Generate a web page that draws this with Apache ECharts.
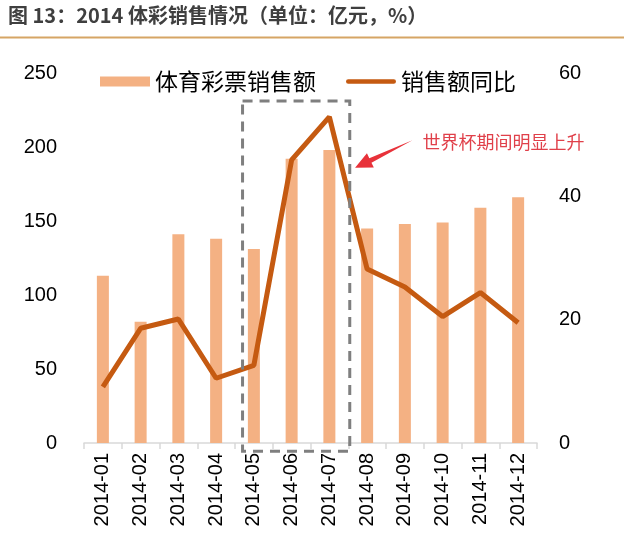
<!DOCTYPE html>
<html><head><meta charset="utf-8">
<script src="https://cdn.jsdelivr.net/npm/echarts@6/dist/echarts.min.js"></script>
<style>html,body{margin:0;padding:0;background:#fff}#c{width:624px;height:549px}</style>
</head><body><div id="c"></div>
<script>
const titleText = '图 13：2014 体彩销售情况（单位：亿元，%）';
const categories = ['2014-01','2014-02','2014-03','2014-04','2014-05','2014-06','2014-07','2014-08','2014-09','2014-10','2014-11','2014-12'];
const salesName = '体育彩票销售额';
const yoyName = '销售额同比';
const sales = [113, 82, 141, 138, 131, 192, 198, 145, 148, 149, 159, 166];
const yoy = [9.1, 18.6, 20.1, 10.5, 12.6, 45.9, 52.9, 28.2, 25.3, 20.5, 24.4, 19.5];
const leftTicks = {min: 0, max: 250, interval: 50};
const rightTicks = {min: 0, max: 60, interval: 20};
const noteText = '世界杯期间明显上升';
// annotation anchors in data space: [category index (fractional), left-axis value]
const boxFrom = [3.7, 231];
const boxTo = [6.54, -5.5];
const arrowTail = [8.2, 204.5];
const arrowTip = [6.68, 186];
const noteAt = [8.47, 203.5];

const chart = echarts.init(document.getElementById('c'));
const numFont = '"Liberation Sans", Arial, sans-serif';
const cjkFont = '"Noto Sans CJK SC", sans-serif';
chart.setOption({
  animation: false,
  grid: {left: 84, right: 87, top: 73, bottom: 106},
  legend: {
    left: 95, top: 65, itemWidth: 50, itemHeight: 10, itemGap: 30,
    textStyle: {fontFamily: cjkFont, fontSize: 23, color: '#000'},
    data: [
      {name: salesName, icon: 'rect'},
      {name: yoyName, icon: 'path://M0,0 M2.5,2.5 L52.5,2.5 A2.5,2.5 0 0 1 52.5,7.5 L2.5,7.5 A2.5,2.5 0 0 1 2.5,2.5 Z M55,10'}
    ]
  },
  xAxis: {
    type: 'category', data: categories,
    axisLine: {lineStyle: {color: '#d9d9d9', width: 1.5}},
    axisTick: {show: true, length: 6, lineStyle: {color: '#d9d9d9', width: 1.5}},
    axisLabel: {rotate: 90, margin: 10, fontFamily: numFont, fontSize: 20, color: '#000'}
  },
  yAxis: [
    {type: 'value', min: leftTicks.min, max: leftTicks.max, interval: leftTicks.interval,
     axisLine: {show: false}, axisTick: {show: false}, splitLine: {show: false},
     axisLabel: {margin: 27, fontFamily: numFont, fontSize: 20, color: '#000'}},
    {type: 'value', min: rightTicks.min, max: rightTicks.max, interval: rightTicks.interval,
     axisLine: {show: false}, axisTick: {show: false}, splitLine: {show: false},
     axisLabel: {margin: 22, fontFamily: numFont, fontSize: 20, color: '#000'}}
  ],
  series: [
    {name: salesName, type: 'bar', data: sales, barWidth: 12, yAxisIndex: 0,
     itemStyle: {color: '#F4B183'}},
    {name: yoyName, type: 'line', data: yoy, yAxisIndex: 1, showSymbol: false, symbol: 'none',
     lineStyle: {color: '#C55A11', width: 5}, itemStyle: {color: '#C55A11'}}
  ]
});

function px(pt) {
  const i = Math.floor(pt[0]);
  const f = pt[0] - i;
  const x0 = chart.convertToPixel({xAxisIndex: 0}, categories[i]);
  const x1 = chart.convertToPixel({xAxisIndex: 0}, categories[Math.min(i + 1, categories.length - 1)]);
  const y = chart.convertToPixel({yAxisIndex: 0}, pt[1]);
  return [x0 + (x1 - x0) * f, y];
}
const b0 = px(boxFrom), b1 = px(boxTo);
const t = px(arrowTail), h = px(arrowTip), n = px(noteAt);
const ang = Math.atan2(h[1] - t[1], h[0] - t[0]);
const headLen = 17, headW = 8;
const base = [h[0] - headLen * Math.cos(ang), h[1] - headLen * Math.sin(ang)];
const nx = -Math.sin(ang), ny = Math.cos(ang);

chart.setOption({
  graphic: [
    {type: 'text', left: 8, top: 5, style: {text: titleText, font: 'bold 20px ' + cjkFont, fill: '#3f3f3f'}},
    {type: 'line', shape: {x1: 0, y1: 37.5, x2: 624, y2: 37.5}, style: {stroke: '#D6A565', lineWidth: 2}},
    {type: 'rect', shape: {x: b0[0], y: b0[1], width: b1[0] - b0[0], height: b1[1] - b0[1]},
     style: {fill: 'none', stroke: '#7f7f7f', lineWidth: 3, lineDash: [10, 7]}, z: 10},
    {type: 'polygon', shape: {points: [
        [t[0], t[1]],
        [base[0] + nx * 2.5, base[1] + ny * 2.5],
        [base[0] + nx * headW, base[1] + ny * headW],
        [h[0], h[1]],
        [base[0] - nx * headW, base[1] - ny * headW],
        [base[0] - nx * 2.5, base[1] - ny * 2.5]
      ]}, style: {fill: '#E8323A'}, z: 10},
    {type: 'text', x: n[0], y: n[1], style: {text: noteText, font: '18px ' + cjkFont, fill: '#E0404A', textVerticalAlign: 'middle'}, z: 10}
  ]
});
</script></body></html>
